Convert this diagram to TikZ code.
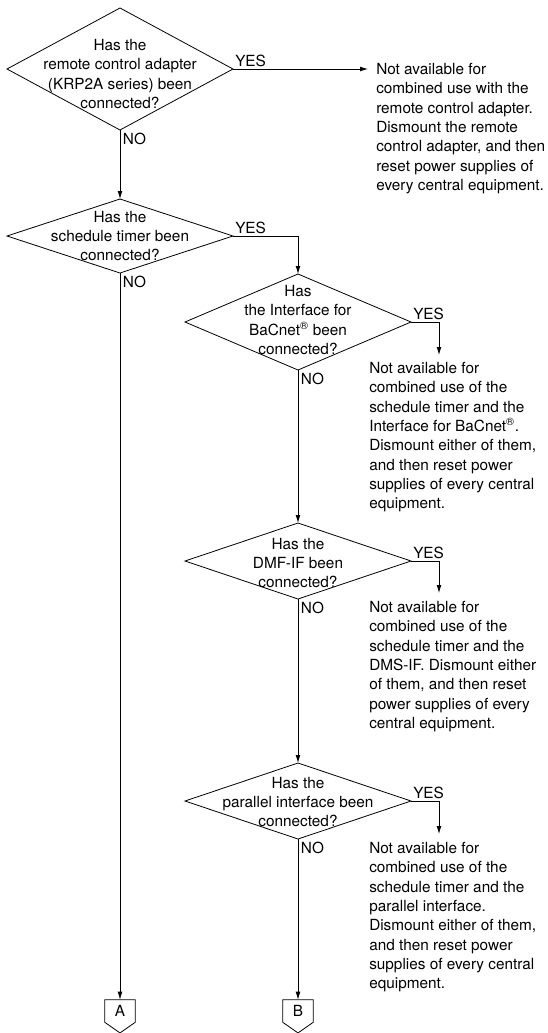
\documentclass[tikz,border=0pt]{standalone}
\usepackage{fontspec}
\setmainfont{TeX Gyre Heros}
\usepackage{tikz}
\usetikzlibrary{arrows.meta,shapes.geometric}
\newcommand{\flowfont}{\fontsize{11.5}{14.5}\selectfont}

\begin{document}
\begin{tikzpicture}[x=0.75pt,y=-0.75pt,
    qbox/.style={diamond, draw, line width=0.6pt, inner sep=0pt, outer sep=0pt,
                 minimum width=169.5pt},
    qtxt/.style={align=center, inner sep=0pt, font=\flowfont},
    note/.style={align=left, anchor=north west, inner sep=0pt, font=\flowfont},
    yes/.style={anchor=south west, inner sep=1.5pt, font=\flowfont},
    no/.style={anchor=north west, inner sep=2pt, font=\flowfont},
    arr/.style={-{Latex[length=6pt,width=3.6pt]}, line width=0.6pt},
    conn/.style={minimum width=22.5pt, minimum height=16.5pt, inner sep=0pt,
                 font=\flowfont}]

  \useasboundingbox (0,0) rectangle (548,1033);

  % -- questions, left column then right column
  \node[qbox, minimum height=91.5pt] (q1) at (120,69) {};
  \node[qtxt] (q1t) at (120,74) {Has the\\remote control adapter\\(KRP2A series) been\\connected?};
  \node[qbox, minimum height=55.5pt] (q2) at (120,236) {};
  \node[qtxt] (q2t) at (120,236) {Has the\\schedule timer been\\connected?};
  \node[qbox, minimum height=72pt] (q3) at (298,322) {};
  \node[qtxt] (q3t) at (298,320) {Has\\the Interface for\\BaCnet\textsuperscript{\textregistered} been\\connected?};
  \node[qbox, minimum height=57pt] (q4) at (298,561) {};
  \node[qtxt] (q4t) at (298,563) {Has the\\DMF-IF been\\connected?};
  \node[qbox, minimum height=57pt] (q5) at (298,801) {};
  \node[qtxt] (q5t) at (298,802) {Has the\\parallel interface been\\connected?};

  % -- messages on the right
  \node[note] (n1) at (376,63) {Not available for\\combined use with the\\remote control adapter.\\Dismount the remote\\control adapter, and then\\reset power supplies of\\every central equipment.};
  \node[note] (n2) at (369,362) {Not available for\\combined use of the\\schedule timer and the\\Interface for BaCnet\textsuperscript{\textregistered}.\\Dismount either of them,\\and then reset power\\supplies of every central\\equipment.};
  \node[note] (n3) at (369,601) {Not available for\\combined use of the\\schedule timer and the\\DMS-IF. Dismount either\\of them, and then reset\\power supplies of every\\central equipment.};
  \node[note] (n4) at (369,842) {Not available for\\combined use of the\\schedule timer and the\\parallel interface.\\Dismount either of them,\\and then reset power\\supplies of every central\\equipment.};

  % -- off-page connectors
  \node[conn] (pa) at (120,1011) {A};
  \node[conn] (pb) at (298,1011) {B};
  \foreach \p in {pa,pb}{
    \draw[line width=0.6pt] (\p.north west) -- (\p.north east) -- (\p.south east)
      -- ([yshift=-8pt]\p.south) -- (\p.south west) -- cycle;}

  % -- ends of the YES drops
  \coordinate (y1) at (368,69);
  \coordinate (y3) at (439,355);
  \coordinate (y4) at (439,593);
  \coordinate (y5) at (439,834);

  % -- YES branches
  \draw[arr] (q1.east) -- (y1);
  \draw[arr] (q2.east) -| (q3.north);
  \draw[arr] (q3.east) -| (y3);
  \draw[arr] (q4.east) -| (y4);
  \draw[arr] (q5.east) -| (y5);
  \foreach \q in {q1,q2,q3,q4,q5}
    \node[yes] (\q yes) at (\q.east) {YES};

  % -- NO branches
  \draw[arr] (q1.south) -- (q2.north);
  \draw[arr] (q2.south) -- (pa.north);
  \draw[arr] (q3.south) -- (q4.north);
  \draw[arr] (q4.south) -- (q5.north);
  \draw[arr] (q5.south) -- (pb.north);
  \foreach \q in {q1,q2,q3,q4,q5}
    \node[no] (\q no) at (\q.south) {NO};
\end{tikzpicture}
\end{document}
